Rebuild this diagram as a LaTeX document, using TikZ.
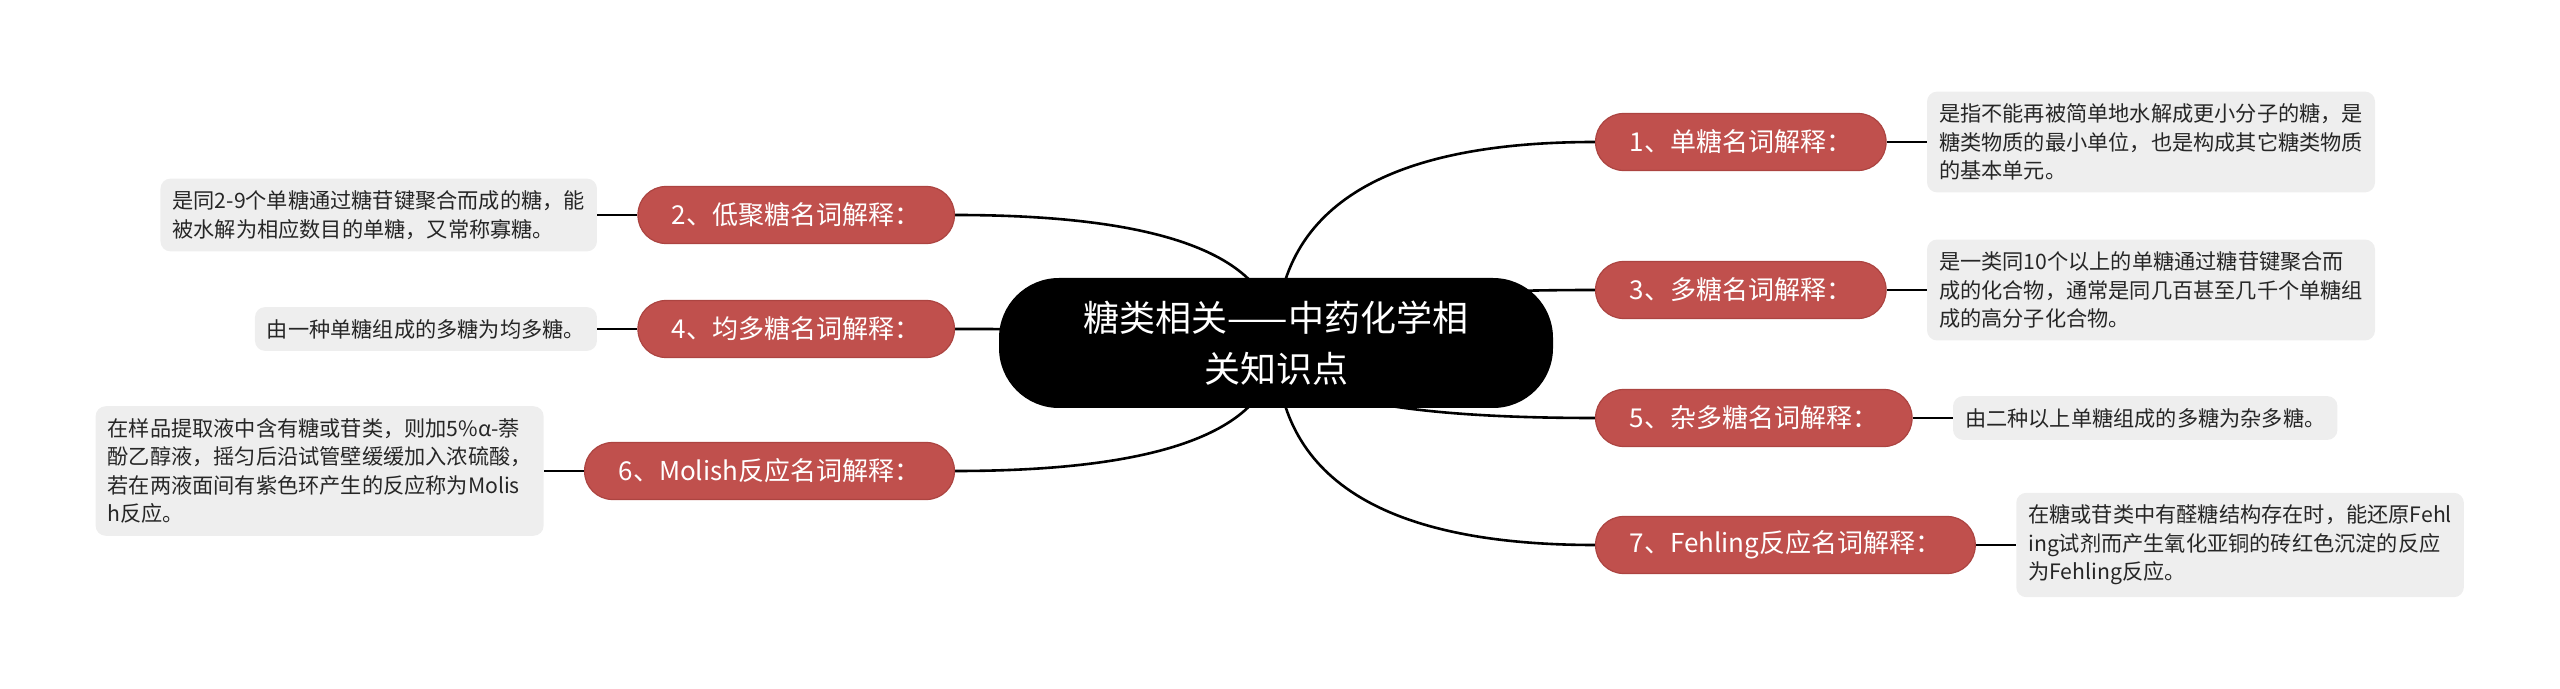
\documentclass[tikz,border=0pt]{standalone}
\usepackage{fontspec}
\usepackage{tikz}
\usetikzlibrary{positioning,backgrounds,calc}
\setmainfont{Noto Sans CJK SC}
\definecolor{branchred}{RGB}{192,80,77}
\definecolor{branchedge}{RGB}{172,68,65}
\definecolor{notegray}{RGB}{238,238,238}
\newcommand{\NoteFont}{\fontsize{10.6pt}{14.3pt}\selectfont}
\newcommand{\BranchFont}{\fontsize{13pt}{15pt}\selectfont}
\newcommand{\TopicFont}{\fontsize{18pt}{25.5pt}\selectfont}

\begin{document}
\begin{tikzpicture}[x=0.5pt, y=-0.5pt,
    topic/.style={fill=black, text=white, rounded corners=30pt, minimum width=277pt, minimum height=65pt, align=center, font=\TopicFont},
    branch/.style={fill=branchred, draw=branchedge, line width=0.6pt, text=white, rounded corners=14pt, minimum height=28.5pt, inner xsep=17pt, font=\BranchFont},
    note/.style={fill=notegray, rounded corners=5pt, inner xsep=6pt, inner ysep=6pt, align=left, font=\NoteFont, text=black!85},
    link/.style={line width=1.3pt}]
    \useasboundingbox (0,0) rectangle (2560,689);
    % Draw central topic
    \node [topic] (topic) at (1276,343) {糖类相关——中药化学相\\关知识点};
    % Draw branches, right side
    \node [branch, anchor=west] (b1) at (1595,142) {1、单糖名词解释：};
    \node [branch, anchor=west] (b3) at (1595,290) {3、多糖名词解释：};
    \node [branch, anchor=west] (b5) at (1595,418) {5、杂多糖名词解释：};
    \node [branch, anchor=west] (b7) at (1595,545) {7、Fehling反应名词解释：};
    % Draw branches, left side
    \node [branch, anchor=east] (b2) at (955,215) {2、低聚糖名词解释：};
    \node [branch, anchor=east] (b4) at (955,329) {4、均多糖名词解释：};
    \node [branch, anchor=east] (b6) at (955,471) {6、Molish反应名词解释：};
    % Draw notes
    \node [note, right=20pt of b1] (n1) {是指不能再被简单地水解成更小分子的糖，是\\糖类物质的最小单位，也是构成其它糖类物质\\的基本单元。};
    \node [note, right=20pt of b3] (n3) {是一类同10个以上的单糖通过糖苷键聚合而\\成的化合物，通常是同几百甚至几千个单糖组\\成的高分子化合物。};
    \node [note, right=20pt of b5] (n5) {由二种以上单糖组成的多糖为杂多糖。};
    \node [note, right=20pt of b7] (n7) {在糖或苷类中有醛糖结构存在时，能还原Fehl\\ing试剂而产生氧化亚铜的砖红色沉淀的反应\\为Fehling反应。};
    \node [note, left=20pt of b2] (n2) {是同2-9个单糖通过糖苷键聚合而成的糖，能\\被水解为相应数目的单糖，又常称寡糖。};
    \node [note, left=20pt of b4] (n4) {由一种单糖组成的多糖为均多糖。};
    \node [note, left=20pt of b6] (n6) {在样品提取液中含有糖或苷类，则加5\%α-萘\\酚乙醇液，摇匀后沿试管壁缓缓加入浓硫酸，\\若在两液面间有紫色环产生的反应称为Molis\\h反应。};
    % Draw links behind the nodes (quadratic curves from the topic centre)
    \begin{pgfonlayer}{background}
    \foreach \b/\side in {b1/west,b3/west,b5/west,b7/west,b2/east,b4/east,b6/east}
        \draw [link] (topic.center)
            .. controls ($(topic.center)!0.667!(topic.center |- \b.\side)$)
            and ($(\b.\side)!0.667!(topic.center |- \b.\side)$) .. (\b.\side);
    \foreach \b/\n in {b1/n1,b3/n3,b5/n5,b7/n7,b2/n2,b4/n4,b6/n6}
        \draw [link] (\b) -- (\n); % branch to note
    \end{pgfonlayer}
\end{tikzpicture}
\end{document}
